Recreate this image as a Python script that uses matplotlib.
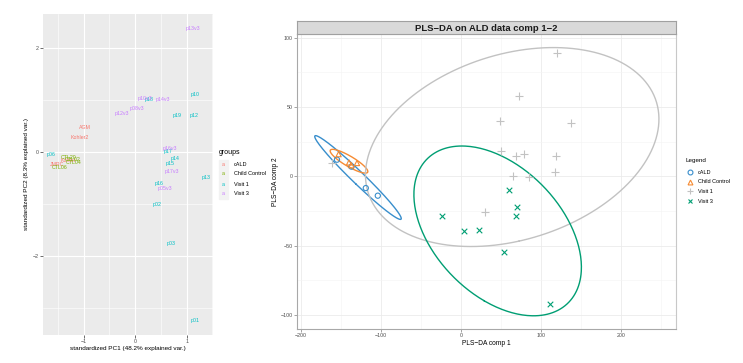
import numpy as np
import matplotlib
matplotlib.use("Agg")
import matplotlib.pyplot as plt
from matplotlib.patches import Rectangle

plt.rcParams['font.family'] = ['Liberation Sans', 'DejaVu Sans']

# ---- left panel: PCA biplot labels ----
groups = ["cALD", "Child Control", "Visit 1", "Visit 3"]
gg_cols = ["#F8766D", "#7CAE00", "#00BFC4", "#C77CFF"]

pca_labels = ["AGM", "Kohler2", "Kohler", "JMRC",
              "CTL20", "CTL02", "CTL04", "CTL06",
              "p06", "p10", "p18", "p19", "p12", "p17", "p14", "p15", "p13",
              "p16", "p02", "p03", "p01",
              "p13v3", "p10v3", "p14v3", "p08v3", "p12v3", "p16v3", "p17v3", "p05v3"]
pca_group = [0, 0, 0, 0,
             1, 1, 1, 1,
             2, 2, 2, 2, 2, 2, 2, 2, 2, 2, 2, 2, 2,
             3, 3, 3, 3, 3, 3, 3, 3]
pc1 = [-0.97, -1.07, -1.30, -1.52,
       -1.30, -1.22, -1.20, -1.47,
       -1.64, 1.17, 0.27, 0.81, 1.15, 0.63, 0.78, 0.68, 1.38,
       0.47, 0.43, 0.70, 1.17,
       1.13, 0.19, 0.54, 0.04, -0.25, 0.68, 0.71, 0.58]
pc2 = [0.46, 0.27, -0.16, -0.25,
       -0.10, -0.15, -0.21, -0.30,
       -0.06, 1.10, 1.00, 0.69, 0.69, 0.00, -0.12, -0.23, -0.50,
       -0.60, -1.02, -1.77, -3.25,
       2.37, 1.02, 1.00, 0.83, 0.73, 0.06, -0.37, -0.71]

# ---- right panel: PLS-DA scores ----
cald_x = [-155, -137, -119, -104]
cald_y = [12, 7, -8.5, -14]
ctl_x = [-153, -140, -137, -130]
ctl_y = [16, 10, 8, 9.6]
v1_x = [120, 72, 137.5, 49, 50, 69, 79, 119, 117.5, 65, 85, 30, -161]
v1_y = [89, 58, 38.5, 40, 18, 14.6, 16, 14.6, 3, 0, -0.5, -26, 9.6]
v3_x = [60, 70, 69, -24, 4, 22.5, 54, 111]
v3_y = [-10, -22, -29, -29, -39.5, -39, -55, -92]

mixo_cols = ["#388ECC", "#F68B33", "#C2C2C2", "#009E73"]
markers = ["o", "^", "+", "x"]

W, H = 743, 363
fig = plt.figure(figsize=(W / 100, H / 100), dpi=100)


def box(l, t, r, b):
    return [l / W, 1 - b / H, (r - l) / W, (b - t) / H]


# ================= left =================
ax1 = fig.add_axes(box(43, 14, 213, 335))
ax1.set_facecolor("#EBEBEB")
ax1.set_xlim(-1.79, 1.51)
ax1.set_ylim(-3.52, 2.65)
ax1.set_xticks([-1, 0, 1])
ax1.set_xticklabels(["\u22121", "0", "1"])
ax1.set_yticks([-2, 0, 2])
ax1.set_yticklabels(["\u22122", "0", "2"])
ax1.set_xticks([-1.5, -0.5, 0.5, 1.5], minor=True)
ax1.set_yticks([-3, -1, 1], minor=True)
ax1.grid(True, which="major", color="white", lw=0.8)
ax1.grid(True, which="minor", color="white", lw=0.4)
ax1.set_axisbelow(True)
for s in ax1.spines.values():
    s.set_visible(False)
ax1.tick_params(which="major", length=2, width=0.5, color="#333333",
                labelsize=3.8, labelcolor="#4D4D4D", pad=1)
ax1.tick_params(which="minor", length=0)
for lab, g, x, y in zip(pca_labels, pca_group, pc1, pc2):
    ax1.text(x, y, lab, color=gg_cols[g], fontsize=3.8, ha="center", va="center")
ax1.set_xlabel("standardized PC1 (48.2% explained var.)", fontsize=4.6, labelpad=1.5)
ax1.set_ylabel("standardized PC2 (8.3% explained var.)", fontsize=4.6, labelpad=2.5)

# left legend
fig.text(219 / W, 1 - 153 / H, "groups", fontsize=5, va="center")
for i, g in enumerate(groups):
    yc = 164 + i * 10
    fig.patches.append(Rectangle(((219) / W, 1 - (yc + 4.5) / H), 9 / W, 9 / H,
                                 transform=fig.transFigure, color="#F2F2F2", zorder=0))
    fig.text(223.5 / W, 1 - yc / H, "a", color=gg_cols[i], fontsize=3.8,
             ha="center", va="center")
    fig.text(234 / W, 1 - yc / H, g, fontsize=4, va="center")

# ================= right =================
ax2 = fig.add_axes(box(297, 34, 676, 329))
ax2.set_xlim(-205, 268.75)
ax2.set_ylim(-110.3, 102.8)
ax2.set_xticks([-200, -100, 0, 100, 200])
ax2.set_xticklabels(["\u2212200", "\u2212100", "0", "100", "200"])
ax2.set_yticks([-100, -50, 0, 50, 100])
ax2.set_yticklabels(["\u2212100", "\u221250", "0", "50", "100"])
ax2.set_xticks([-150, -50, 50, 150, 250], minor=True)
ax2.set_yticks([-75, -25, 25, 75], minor=True)
ax2.grid(True, which="major", color="#EBEBEB", lw=0.6)
ax2.grid(True, which="minor", color="#F4F4F4", lw=0.4)
ax2.set_axisbelow(True)
for k, s in ax2.spines.items():
    s.set_color("#C8C8C8")
    s.set_linewidth(0.8)
ax2.spines["left"].set_color("#A8A8A8")
ax2.spines["bottom"].set_color("#A8A8A8")
ax2.tick_params(which="major", length=2, width=0.5, color="#7F7F7F",
                labelsize=3.8, labelcolor="#4D4D4D", pad=1)
ax2.tick_params(which="minor", length=0)

# 95% confidence ellipses per group
chi = np.sqrt(-2 * np.log(0.05))
t = np.linspace(0, 2 * np.pi, 300)
data = [(cald_x, cald_y), (ctl_x, ctl_y), (v1_x, v1_y), (v3_x, v3_y)]
for i, (xs, ys) in enumerate(data):
    xs = np.asarray(xs, float)
    ys = np.asarray(ys, float)
    cov = np.cov(xs, ys)
    vals, vecs = np.linalg.eigh(cov)
    circ = np.vstack([np.cos(t), np.sin(t)]) * chi * np.sqrt(vals)[:, None]
    ell = vecs @ circ
    ax2.plot(ell[0] + xs.mean(), ell[1] + ys.mean(), color=mixo_cols[i], lw=1.0, zorder=2)

for i, (xs, ys) in enumerate(data):
    if markers[i] in ("o", "^"):
        ax2.scatter(xs, ys, marker=markers[i], s=14, facecolors="none",
                    edgecolors=mixo_cols[i], linewidths=0.8, zorder=3)
    else:
        ax2.scatter(xs, ys, marker=markers[i], s=30 if markers[i] == "+" else 16,
                    color=mixo_cols[i], linewidths=0.8, zorder=3)

ax2.set_xlabel("PLS\u2212DA comp 1", fontsize=4.8, labelpad=1.5)
ax2.set_ylabel("PLS\u2212DA comp 2", fontsize=4.8, labelpad=1)

# strip title
strip = fig.add_axes(box(297, 21, 676, 34))
strip.set_facecolor("#D9D9D9")
strip.set_xticks([])
strip.set_yticks([])
for s in strip.spines.values():
    s.set_color("#A0A0A0")
    s.set_linewidth(0.8)
strip.text(0.5, 0.45, "PLS\u2212DA on ALD data comp 1\u22122", transform=strip.transAxes,
           ha="center", va="center", fontsize=6.8, fontweight="bold", color="#1A1A1A")

# right legend
fig.text(685 / W, 1 - 161 / H, "Legend", fontsize=4.5, va="center")
for i, g in enumerate(groups):
    yc = 172 + i * 9.7
    xm, ym = 690 / W, 1 - yc / H
    if markers[i] in ("o", "^"):
        fig.add_artist(plt.Line2D([xm], [ym], marker=markers[i], ms=3.5, mfc="none",
                                  mec=mixo_cols[i], mew=0.8, ls="none",
                                  transform=fig.transFigure))
    else:
        fig.add_artist(plt.Line2D([xm], [ym], marker=markers[i], ms=4.5 if markers[i] == "+" else 3.5,
                                  color=mixo_cols[i], mew=0.8, ls="none",
                                  transform=fig.transFigure))
    fig.text(698 / W, ym, g, fontsize=4, va="center")

fig.savefig("out.png", dpi=100)
